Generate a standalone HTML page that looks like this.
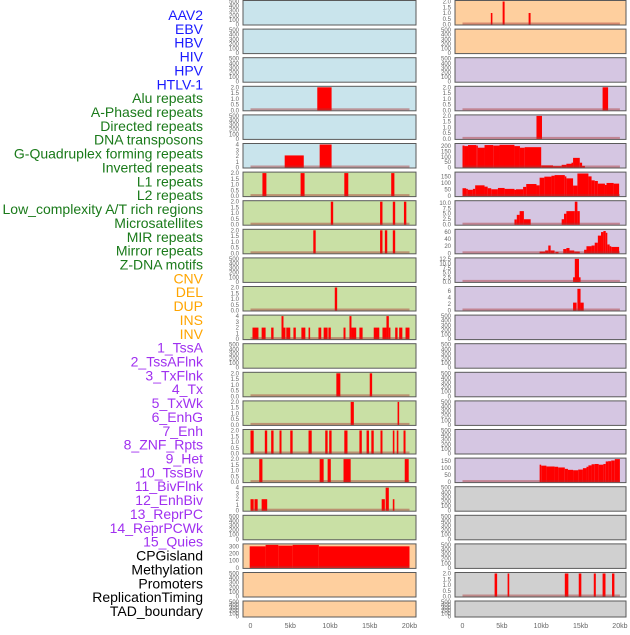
<!DOCTYPE html>
<html><head><meta charset="utf-8"><style>
body{margin:0;background:#fff;}
svg text{font-family:"Liberation Sans",sans-serif;}
</style></head><body>
<svg id="chart" width="630" height="630" xmlns="http://www.w3.org/2000/svg"></svg>
<script>
const labelNames = ["AAV2","EBV","HBV","HIV","HPV","HTLV-1","Alu repeats","A-Phased repeats","Directed repeats","DNA transposons","G-Quadruplex forming repeats","Inverted repeats","L1 repeats","L2 repeats","Low_complexity A/T rich regions","Microsatellites","MIR repeats","Mirror repeats","Z-DNA motifs","CNV","DEL","DUP","INS","INV","1_TssA","2_TssAFlnk","3_TxFlnk","4_Tx","5_TxWk","6_EnhG","7_Enh","8_ZNF_Rpts","9_Het","10_TssBiv","11_BivFlnk","12_EnhBiv","13_ReprPC","14_ReprPCWk","15_Quies","CPGisland","Methylation","Promoters","ReplicationTiming","TAD_boundary"];
const labelGroups = ["v","v","v","v","v","v","r","r","r","r","r","r","r","r","r","r","r","r","r","c","c","c","c","c","s","s","s","s","s","s","s","s","s","s","s","s","s","s","s","o","o","o","o","o"];
const xTicks = [0,5,10,15,20];
const xTickLabels = ["0","5kb","10kb","15kb","20kb"];
const emptyTicks = [0,100,200,300,400,500];
const t2 = [0,0.5,1.0,1.5,2.0];
const t4 = [0,1,2,3,4];
// segments: [startKb, endKb, value]
const segL4 = [[8.4,10.2,2]];
const segL6 = [[4.3,6.7,2.1],[8.7,10.2,4]];
const segL7 = [[1.5,2.0,2],[6.3,6.8,2],[11.8,12.3,2],[17.7,18.1,2]];
const segL8 = [[10.1,10.4,2],[16.3,16.6,2],[17.9,18.2,2],[19.3,19.6,2]];
const segL9 = [[7.9,8.2,2],[16.3,16.6,2],[16.9,17.2,2],[17.9,18.2,2]];
const segL11 = [[10.6,10.9,2]];
const segL12 = [[0.25,1.0,2],[1.4,1.9,2],[2.6,2.9,2],[3.9,4.15,4],[4.15,4.4,2],[4.5,5.0,2],[5.4,5.7,2],[6.4,6.9,2],[7.3,7.5,2],[8.55,8.9,2],[9.2,9.7,2],[9.8,10.1,2],[11.7,11.95,2],[12.45,12.7,4],[12.7,13.3,2],[13.7,14.1,2],[15.5,16.2,2],[16.6,17.1,2],[17.1,17.4,4],[17.4,17.6,2],[18.2,18.5,2],[18.7,19.1,2],[19.5,20,2]];
const segL14 = [[10.8,11.3,2],[15.0,15.3,2]];
const segL15 = [[12.6,13.0,2],[18.5,18.7,2]];
const segL16 = [[0,0.4,2],[1.8,2.1,2],[2.6,2.9,2],[3.65,3.9,2],[5.0,5.3,2],[7.3,7.7,2],[9.4,9.7,2],[9.9,10.2,2],[11.8,12.2,2],[13.7,14.0,2],[14.6,14.9,2],[15.2,15.5,2],[16.35,16.6,2],[17.9,18.1,2],[18.4,18.6,2],[19.25,19.5,2]];
const segL17 = [[1.1,1.5,2],[8.7,9.2,2],[9.7,10.1,2],[11.7,12.6,2],[19.4,19.9,2]];
const segL18 = [[0,0.4,2],[0.5,0.9,2],[1.4,2.1,2],[16.5,16.9,2],[17.0,17.4,4],[17.9,18.1,2]];
const segL20 = [[-0.1,1.9,300],[1.9,3.5,320],[3.5,5.3,310],[5.3,8.6,320],[8.6,20,300]];
const segR1 = [[3.6,3.8,1],[5.1,5.35,2],[8.4,8.65,1]];
const segR4 = [[17.8,18.5,2]];
const segR5 = [[9.4,10.1,2]];
const segR6 = [[0,0.25,205],[0.25,0.7,200],[0.7,1.75,210],[1.75,1.95,205],[1.95,2.8,185],[2.8,3.9,210],[3.9,4.7,205],[4.7,6.6,212],[6.6,7.3,200],[7.3,7.9,185],[7.9,10.0,190],[10.0,11.5,20],[11.5,12.6,12],[12.6,13.2,25],[13.2,13.85,35],[13.85,14.05,45],[14.05,14.9,90],[14.9,15.2,45],[15.2,15.55,15]];
const segR7 = [[0,0.46,60],[0.46,0.68,55],[0.68,1.32,48],[1.32,1.61,55],[1.61,2.8,82],[2.8,3.2,72],[3.2,3.65,60],[3.65,4.5,52],[4.5,5.35,62],[5.35,6.6,55],[6.6,6.8,48],[6.8,7.7,52],[7.7,8.1,70],[8.1,9.4,92],[9.4,9.8,82],[9.8,10.4,140],[10.4,11.3,148],[11.3,11.7,155],[11.7,13.0,160],[13.0,13.2,150],[13.2,14.05,135],[14.05,14.6,80],[14.6,16.0,172],[16.0,16.4,150],[16.4,16.8,120],[16.8,17.2,115],[17.2,18.1,95],[18.1,18.3,85],[18.3,19.2,100],[19.2,19.9,95]];
const segR8 = [[6.6,6.9,2.4],[6.9,7.26,4.5],[7.26,7.8,6.2],[7.8,8.66,2.5],[12.6,12.9,2.5],[12.9,13.2,5],[13.2,14.27,6.2],[14.27,14.6,10.5],[14.6,14.9,6.2]];
const segR9 = [[9.8,10.5,5],[10.5,10.9,8],[10.9,11.2,22],[11.2,11.7,8],[11.8,12.2,4],[12.8,13.2,12],[13.2,13.6,15],[13.6,14.2,8],[14.2,14.9,5],[15.45,15.75,10],[15.75,16.4,20],[16.4,16.8,22],[16.8,17.2,30],[17.2,17.6,50],[17.6,17.9,60],[17.9,18.2,63],[18.2,18.4,58],[18.4,18.7,25],[18.7,18.9,20],[18.9,19.9,18]];
const segR10 = [[14.05,15.0,2.5],[14.27,14.8,12.5]];
const segR11 = [[14.05,14.5,2.4],[14.6,15.0,6.6],[15.0,15.4,2.4]];
const segR17 = [[9.8,10.0,125],[10.0,10.66,118],[10.66,11.7,112],[11.7,12.15,110],[12.15,13.0,105],[13.0,13.4,95],[13.4,14.05,88],[14.05,14.7,85],[14.7,15.3,90],[15.3,15.75,100],[15.75,16.0,110],[16.0,16.4,120],[16.4,16.8,128],[16.8,17.3,130],[17.3,17.9,125],[17.9,18.2,130],[18.2,18.5,148],[18.5,18.9,150],[18.9,19.35,155],[19.35,20,165]];
const segR21 = [[4.08,4.4,2],[5.73,5.94,2],[13.0,13.45,2],[14.77,15.1,2],[16.68,16.94,2],[17.8,18.17,2],[19.0,19.3,2]];

const B="#c9e4ec",G="#c9e0a5",O="#fecf9e",P="#d5c6e2",Y="#d0d0d0";
// [name, colour, segments, ymax, ticks]
const leftPanels = [
 ["aav2",B,null],["hbv",B,null],["hpv",B,null],["alu-repeats",B,segL4,2,t2],["directed-repeats",B,null],
 ["g-quadruplex",B,segL6,4,t4],["l1-repeats",G,segL7,2,t2],["low-complexity",G,segL8,2,t2],["mir-repeats",G,segL9,2,t2],
 ["z-dna",G,null],["del",G,segL11,2,t2],["ins",G,segL12,4,t4],["tssa",G,null],["txflnk",G,segL14,2,t2],
 ["txwk",G,segL15,2,t2],["enh",G,segL16,2,t2],["het",G,segL17,2,t2],["bivflnk",G,segL18,4,t4],["reprpc",G,null],
 ["quies",O,null],["methylation",O,null],["replication-timing",O,null]];
leftPanels[19]=["cpgisland",O,segL20,320,[0,100,200,300]];
const rightPanels = [
 ["ebv",O,segR1,2,t2],["hiv",O,null],["htlv-1",P,null],["a-phased-repeats",P,segR4,2,t2],["dna-transposons",P,segR5,2,t2],
 ["inverted-repeats",P,segR6,215,[0,50,100,150,200]],["l2-repeats",P,segR7,175,[0,50,100,150]],
 ["microsatellites",P,segR8,10.5,[0,2.5,5.0,7.5,10.0]],["mirror-repeats",P,segR9,65,[0,20,40,60]],
 ["cnv",P,segR10,12.5,[0,2.5,5.0,7.5,10.0,12.5]],["dup",P,segR11,7,[0,2,4,6]],["inv",P,null],["tssaflnk",P,null],
 ["tx",P,null],["enhg",P,null],["znf-rpts",P,null],["tssbiv",P,segR17,165,[0,50,100,150]],["enhbiv",Y,null],
 ["reprpcwk",Y,null],["cpgisland-2",Y,null],["promoters",Y,segR21,2,t2],["tad-boundary",Y,null]];

const svg=document.getElementById('chart');
const NS="http://www.w3.org/2000/svg";
function mk(tag,attrs,parent){const e=document.createElementNS(NS,tag);for(const k in attrs)e.setAttribute(k,attrs[k]);(parent||svg).appendChild(e);return e;}
const colMap={v:"#1a1aff",r:"#1a7a1a",c:"#ffa500",s:"#a030f0",o:"#000"};
labelNames.forEach((n,i)=>{
  const t=mk('text',{x:203,y:20+i*13.86,'text-anchor':'end','font-size':14,fill:colMap[labelGroups[i]]});
  t.textContent=n;
  
  
});
function fmt(v,ticks){const dec=ticks.some(x=>x%1!==0)||ticks[ticks.length-1]<=2;return dec?v.toFixed(1):String(v);}
function drawCol(panels,x0,x1,kx0,kscale,colName){
  const xs=kb=>kx0+kb*kscale;
  panels.forEach((p,i)=>{
    const last=i===panels.length-1;
    const top=last?601:i*28.6+0.5, h=last?16:24.5;
    const g=mk('g',{});
    
    
    const r=mk('rect',{x:x0,y:top,width:x1-x0,height:h,fill:p[1],stroke:'#5a5a5a','stroke-width':1},g);
    
    
    const segs=p[2], ymax=segs?p[3]:500, ticks=segs?p[4]:emptyTicks;
    const ys=v=>top+h-0.5-v/ymax*(h-1.5);
    ticks.forEach(v=>{
      const t=mk('text',{x:x0-4,y:ys(v)+2,'text-anchor':'end','font-size':6,fill:'#666'},g);
      t.textContent=segs?fmt(v,ticks):String(v);
      
      
    });
    if(segs){
      segs.forEach(s=>{
        const b=mk('rect',{x:xs(s[0]),y:ys(s[2]),width:Math.max(1,xs(s[1])-xs(s[0])),height:ys(0)-ys(s[2]),fill:'#ff0000'},g);
        
        
      });
      const bl=mk('rect',{x:xs(0),y:top+h-2.5,width:xs(20)-xs(0),height:2,fill:'rgba(170,50,50,0.45)'},g);
      
      
    }
  });
  xTicks.forEach((v,i)=>{
    const t=mk('text',{x:xs(v),y:628,'text-anchor':'middle','font-size':7,fill:'#666'});
    t.textContent=xTickLabels[i];
    
    
  });
}
drawCol(leftPanels,243,416,250.5,7.95,'left');
drawCol(rightPanels,455,626,462.5,7.87,'right');
</script>
</body></html>
